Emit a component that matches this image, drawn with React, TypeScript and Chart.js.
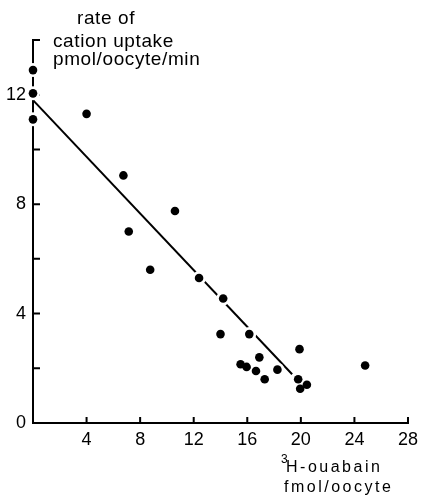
import React, { useEffect, useRef } from 'react';
import { Chart, registerables } from 'chart.js';

Chart.register(...registerables);

// Bound 3H-ouabain (fmol/oocyte) and rate of cation uptake (pmol/oocyte/min)
const ouabainBound = [0, 0, 0, 4.0, 6.75, 7.15, 8.75, 10.6, 12.4, 14.2, 14.0, 16.15, 15.5, 15.95, 16.9, 16.65, 17.3, 18.25, 19.9, 19.8, 19.95, 20.45, 24.8];
const uptakeRate = [12.9, 12.05, 11.1, 11.3, 9.05, 7.0, 5.6, 7.75, 5.3, 4.55, 3.25, 3.25, 2.15, 2.05, 2.4, 1.9, 1.6, 1.95, 2.7, 1.6, 1.25, 1.4, 2.1];

// Fitted regression line end points
const fitX = [0, 19.35];
const fitY = [11.8, 1.78];

// Axis ranges and ticks
const xMax = 28;
const yMax = 14;
const xTickValues = [4, 8, 12, 16, 20, 24, 28];
const yTickValues = [2, 4, 6, 8, 10, 12, 14];
const yLabelValues = [0, 4, 8, 12];

const yTitleLines = ['rate of', 'cation uptake', 'pmol/oocyte/min'];
const xTitleSup = '3';
const xTitleLines = ['H-ouabain', 'fmol/oocyte'];

const FONT = '"Liberation Sans", Arial, sans-serif';

const handAxes = {
  id: 'handAxes',
  beforeDatasetsDraw(chart: any) {
    const { ctx, scales } = chart;
    const x = scales.x;
    const y = scales.y;
    const x0 = x.getPixelForValue(0);
    const y0 = y.getPixelForValue(0);
    ctx.save();
    ctx.strokeStyle = '#000';
    ctx.lineWidth = 2;
    ctx.lineCap = 'square';
    ctx.beginPath();
    ctx.moveTo(x0, y.getPixelForValue(yMax));
    ctx.lineTo(x0, y0);
    ctx.lineTo(x.getPixelForValue(xMax), y0);
    ctx.stroke();
    ctx.lineCap = 'butt';
    ctx.beginPath();
    for (const v of xTickValues) {
      const px = x.getPixelForValue(v);
      ctx.moveTo(px, y0);
      ctx.lineTo(px, y0 - 6);
    }
    for (const v of yTickValues) {
      const py = y.getPixelForValue(v);
      ctx.moveTo(x0, py);
      ctx.lineTo(x0 + 7, py);
    }
    ctx.stroke();
    ctx.restore();
  },
  afterDraw(chart: any) {
    const { ctx, chartArea } = chart;
    const { left, top, bottom } = chartArea;
    ctx.save();
    ctx.fillStyle = '#000';
    ctx.textAlign = 'left';
    ctx.textBaseline = 'alphabetic';

    // y-axis title
    ctx.font = `19px ${FONT}`;
    (ctx as any).letterSpacing = '0.6px';
    ctx.fillText(yTitleLines[0], left + 44, top - 16);
    ctx.fillText(yTitleLines[1], left + 20, top + 7);
    ctx.fillText(yTitleLines[2], left + 20, top + 25);

    // x-axis title
    ctx.font = `12px ${FONT}`;
    (ctx as any).letterSpacing = '0px';
    ctx.fillText(xTitleSup, left + 248, bottom + 40);
    ctx.font = `16px ${FONT}`;
    (ctx as any).letterSpacing = '2.5px';
    ctx.fillText(xTitleLines[0], left + 253, bottom + 49);
    ctx.fillText(xTitleLines[1], left + 251, bottom + 69);
    ctx.restore();
  },
};

export default function App() {
  const canvasRef = useRef<HTMLCanvasElement | null>(null);

  useEffect(() => {
    const canvas = canvasRef.current;
    if (!canvas) return;

    const points = ouabainBound.map((v, i) => ({ x: v, y: uptakeRate[i] }));
    const fit = fitX.map((v, i) => ({ x: v, y: fitY[i] }));

    const chart = new Chart(canvas, {
      type: 'scatter',
      data: {
        datasets: [
          {
            label: 'uptake',
            data: points,
            pointRadius: 4.3,
            pointBackgroundColor: '#000',
            pointBorderWidth: 0,
            clip: false,
            order: 1,
          },
          {
            label: 'halo',
            data: points,
            pointRadius: 7,
            pointBackgroundColor: '#fff',
            pointBorderWidth: 0,
            clip: false,
            order: 2,
          },
          {
            type: 'line',
            label: 'fit',
            data: fit,
            showLine: true,
            borderColor: '#000',
            borderWidth: 2,
            pointRadius: 0,
            clip: false,
            order: 3,
          },
        ],
      } as any,
      options: {
        responsive: false,
        animation: false,
        events: [],
        layout: { padding: { top: 40, right: 9, left: 0, bottom: 0 } },
        plugins: {
          legend: { display: false },
          tooltip: { enabled: false },
          title: { display: false },
        },
        scales: {
          x: {
            type: 'linear',
            min: 0,
            max: xMax,
            grid: { display: false, drawTicks: false },
            border: { display: false },
            afterFit: (scale: any) => {
              scale.height = 73;
            },
            afterBuildTicks: (scale: any) => {
              scale.ticks = xTickValues.map((v) => ({ value: v }));
            },
            ticks: {
              padding: 6,
              color: '#000',
              font: { family: FONT, size: 18 },
              maxRotation: 0,
              callback: (v: any) => String(v),
            },
          },
          y: {
            type: 'linear',
            min: 0,
            max: yMax,
            grid: { display: false, drawTicks: false },
            border: { display: false },
            afterFit: (scale: any) => {
              scale.width = 33;
            },
            afterBuildTicks: (scale: any) => {
              scale.ticks = yLabelValues.map((v) => ({ value: v }));
            },
            ticks: {
              padding: 7,
              color: '#000',
              font: { family: FONT, size: 18 },
              callback: (v: any) => String(v),
            },
          },
        },
      },
      plugins: [handAxes],
    });

    return () => chart.destroy();
  }, []);

  return (
    <div style={{ position: 'absolute', left: 0, top: 0, width: 424, height: 496, background: '#fff' }}>
      <canvas ref={canvasRef} width={424} height={496} style={{ display: 'block' }} />
    </div>
  );
}
